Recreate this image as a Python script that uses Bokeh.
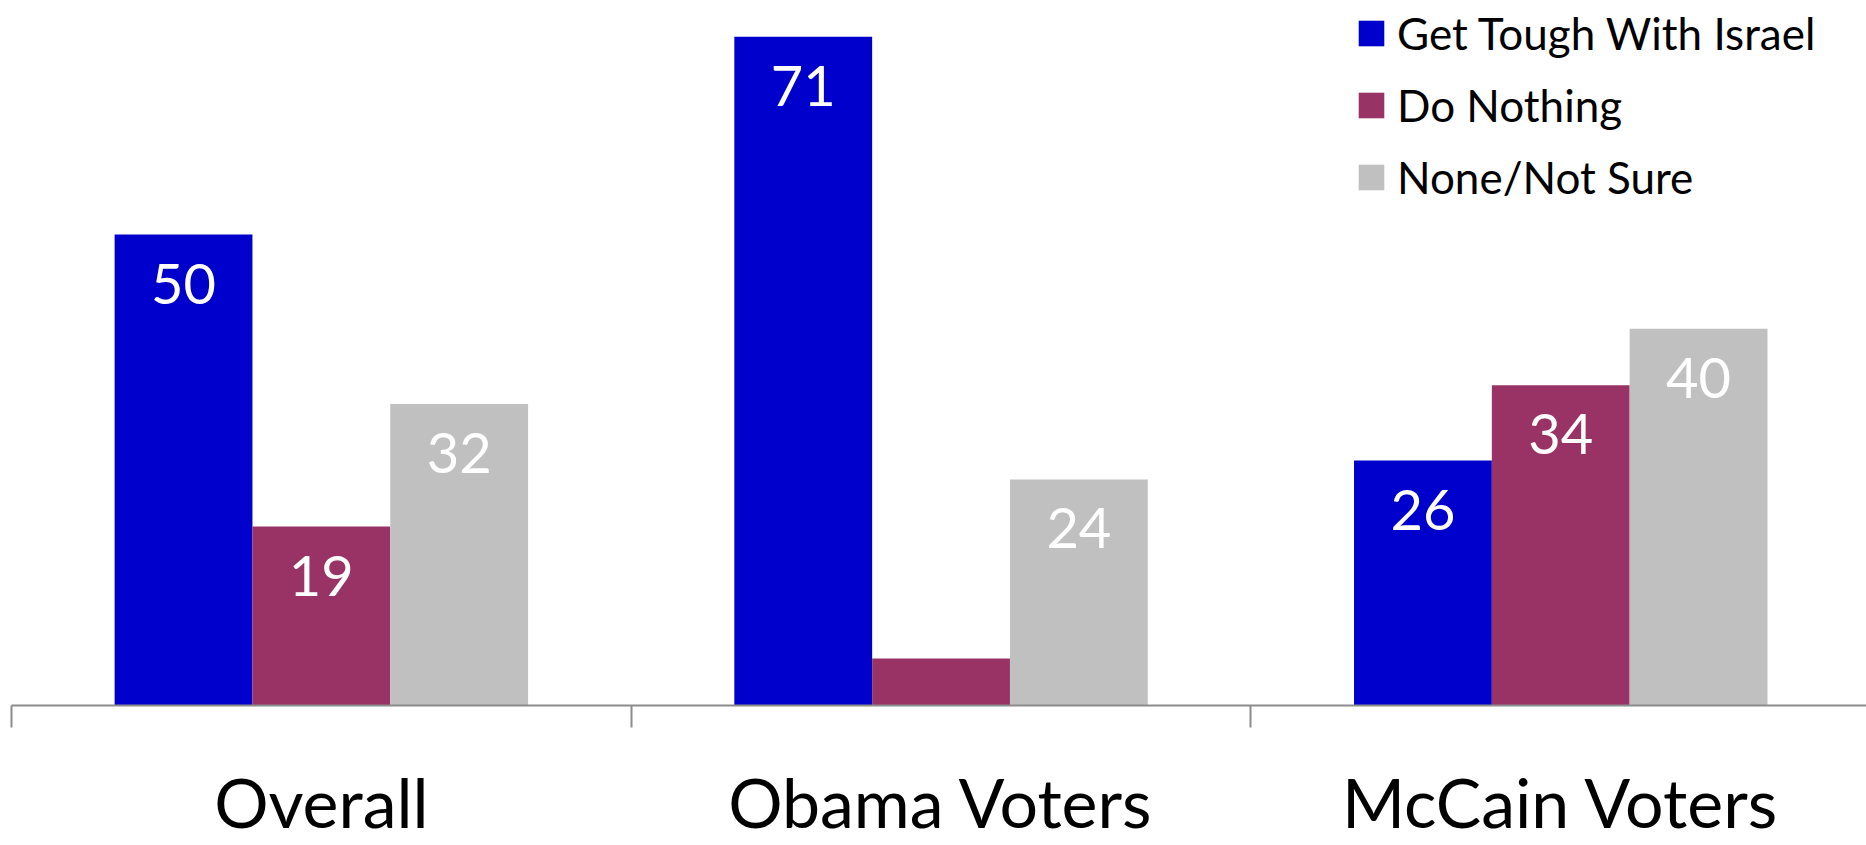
from bokeh.plotting import figure
from bokeh.models import ColumnDataSource, Range1d, FixedTicker, Legend, LegendItem
from bokeh.transform import dodge
from bokeh.core.properties import value
from bokeh.embed import file_html
from bokeh.resources import INLINE

# ---- data ----
categories = ["Overall", "Obama Voters", "McCain Voters"]
series_names = ["Get Tough With Israel", "Do Nothing", "None/Not Sure"]
get_tough = [50, 71, 26]
do_nothing = [19, 5, 34]
none_not_sure = [32, 24, 40]
get_tough_labels = ["50", "71", "26"]
do_nothing_labels = ["19", "", "34"]
none_not_sure_labels = ["32", "24", "40"]
colors = ["#0000CC", "#993366", "#C0C0C0"]

FONT = "Lato"
W, H = 1866, 845
LEFT = 11
CAT_PX = 619.7
PX_PER_UNIT = 9.42
FRAME_H = 705
BAR_W = 0.2224

xc = [i + 0.5 for i in range(len(categories))]
source = ColumnDataSource(dict(
    xc=xc, gt=get_tough, dn=do_nothing, ns=none_not_sure,
    gt_lab=get_tough_labels, dn_lab=do_nothing_labels, ns_lab=none_not_sure_labels,
))

p = figure(width=W, height=H, output_backend="svg", toolbar_location=None,
           x_range=Range1d(0, (W - LEFT) / CAT_PX),
           y_range=Range1d(0, FRAME_H / PX_PER_UNIT),
           y_axis_location=None, min_border_left=LEFT, min_border_right=0,
           min_border_top=0, min_border_bottom=H - FRAME_H)
p.outline_line_color = None
p.xgrid.visible = False
p.ygrid.visible = False
p.background_fill_color = "white"

renderers = []
for k, (col, lab) in enumerate([("gt", "gt_lab"), ("dn", "dn_lab"), ("ns", "ns_lab")]):
    off = (k - 1) * BAR_W
    r = p.vbar(x=dodge("xc", off, range=p.x_range), top=col, width=BAR_W,
               bottom=0, source=source, fill_color=colors[k], line_color=None)
    renderers.append(r)
    p.text(x=dodge("xc", off, range=p.x_range), y=col, text=lab, source=source,
           text_color="white", text_font=value(FONT), text_font_size="56px",
           text_align="center", text_baseline="middle", y_offset=49)

ax = p.xaxis[0]
ax.ticker = FixedTicker(ticks=xc, minor_ticks=[float(i) for i in range(len(categories) + 1)])
ax.major_label_overrides = {x: c for x, c in zip(xc, categories)}
ax.axis_line_color = "#8C8C8C"
ax.axis_line_width = 2
ax.major_tick_out = 0
ax.major_tick_in = 0
ax.major_tick_line_color = None
ax.minor_tick_out = 22
ax.minor_tick_in = 0
ax.minor_tick_line_color = "#8C8C8C"
ax.minor_tick_line_width = 2
ax.major_label_text_font = FONT
ax.major_label_text_font_size = "68px"
ax.major_label_text_color = "black"
ax.major_label_standoff = 33

legend = Legend(items=[LegendItem(label=series_names[k], renderers=[renderers[k]]) for k in range(3)],
                location=(1344, 501), orientation="vertical",
                label_text_font=FONT, label_text_font_size="44px", label_text_color="black",
                glyph_width=32, glyph_height=32, label_height=54, spacing=18,
                padding=0, margin=0, border_line_alpha=0, background_fill_alpha=0,
                label_standoff=10)
p.add_layout(legend)

open("out.html", "w").write(file_html(p, INLINE))
